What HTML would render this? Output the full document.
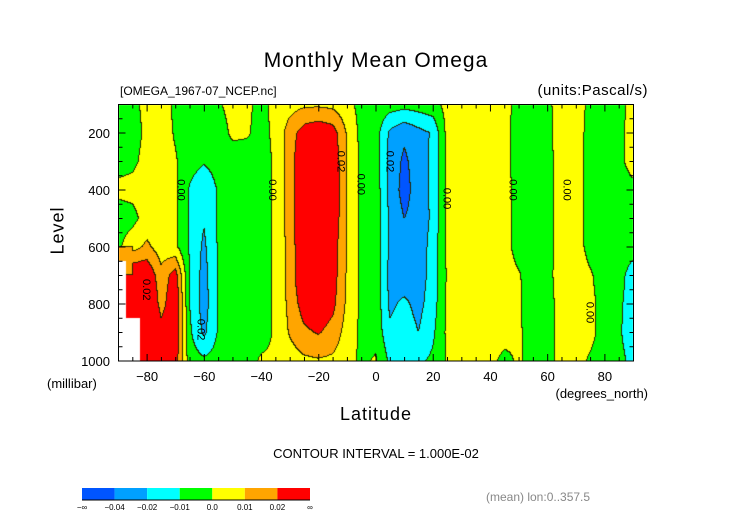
<!DOCTYPE html>
<html><head><meta charset="utf-8">
<style>
html,body{margin:0;padding:0;background:#fff;}
#wrap{position:relative;width:752px;height:532px;overflow:hidden;font-family:"Liberation Sans",sans-serif;color:#000;}
.t{position:absolute;white-space:nowrap;}
canvas{position:absolute;left:0;top:0;}
svg{position:absolute;left:0;top:0;}
</style></head>
<body>
<div id="wrap">
<canvas id="cv" width="752" height="532"></canvas>
<svg id="ov" width="752" height="532"></svg>
<div class="t" style="left:0;width:752px;text-align:center;top:49px;font-size:21px;letter-spacing:1px;font-weight:300;">Monthly Mean Omega</div>
<div class="t" style="left:120px;top:84px;font-size:12px;">[OMEGA_1967-07_NCEP.nc]</div>
<div class="t" style="right:104px;top:82px;font-size:15px;letter-spacing:0.5px;">(units:Pascal/s)</div>
<div class="t" style="left:34px;top:220px;font-size:18px;transform:rotate(-90deg);letter-spacing:1px;">Level</div>
<div class="t" style="left:47px;top:376px;font-size:13px;">(millibar)</div>
<div class="t" style="left:0;width:752px;text-align:center;top:404px;font-size:18px;letter-spacing:1px;">Latitude</div>
<div class="t" style="right:104px;top:386px;font-size:13px;">(degrees_north)</div>
<div class="t" style="left:0;width:752px;text-align:center;top:446px;font-size:13px;">CONTOUR INTERVAL = 1.000E-02</div>
<div class="t" style="left:486px;top:490px;font-size:12px;color:#888;">(mean) lon:0..357.5</div>
</div>
<script>
const lats=[-90,-85,-80,-75,-70,-65,-60,-55,-50,-45,-40,-35,-30,-25,-20,-15,-10,-5,0,5,10,15,20,25,30,35,40,45,50,55,60,65,70,75,80,85,90];
const levels=[100,200,300,400,500,600,700,800,900,1000];
const N=NaN;
const omega100=[-0.5,-0.3,0.3,0.5,-0.2,-0.5,-0.5,-0.1,0.3,0.2,-0.3,0.3,0.6,0.8,0.8,0.7,0.3,-0.3,-0.4,-0.5,-0.6,-0.5,-0.3,0.3,0.5,0.5,0.5,0.3,-0.3,-0.5,-0.2,0.4,0.4,-0.2,-0.4,-0.2,0.2];
const omega200=[-0.5,-0.4,0.2,0.5,-0.1,-0.5,-0.6,-0.5,0.2,0.1,-0.3,0.2,1.5,2.5,2.8,2.5,0.9,-0.3,-0.5,-2.2,-2.8,-2.3,-1.9,0.3,0.6,0.6,0.5,0.3,-0.4,-0.6,-0.3,0.5,0.4,-0.3,-0.5,-0.2,0.3];
const omega300=[-0.3,-0.2,0.3,0.5,0.1,-0.6,-0.9,-0.6,-0.5,-0.4,-0.3,0.1,1.5,3,3.2,2.8,1.0,-0.2,-0.5,-2.3,-3.2,-2.5,-1.8,0.2,0.5,0.5,0.5,0.3,-0.4,-0.6,-0.3,0.4,0.4,-0.3,-0.5,-0.2,0.3];
const omega400=[0.2,0.3,0.5,0.5,0.2,-1.1,-1.8,-0.9,-0.5,-0.4,-0.3,0.1,1.5,3,3.3,3,1.0,-0.2,-0.4,-2.3,-3.4,-2.5,-1.8,0.2,0.5,0.6,0.6,0.4,-0.4,-0.6,-0.3,0.4,0.4,-0.3,-0.5,-0.3,-0.2];
const omega500=[-0.4,-0.3,0.4,0.5,0.2,-1.1,-1.9,-0.9,-0.5,-0.4,-0.3,0.1,1.5,3,3.3,2.8,1.0,-0.2,-0.3,-2.2,-3.0,-2.6,-1.8,0.2,0.5,0.6,0.6,0.4,-0.4,-0.6,-0.3,0.4,0.4,-0.3,-0.5,-0.3,-0.3];
const omega600=[-0.2,0.6,1.2,0.5,0.2,-1.1,-2.2,-0.9,-0.5,-0.4,-0.3,0.1,1.4,3,3.2,2.6,0.9,-0.2,-0.3,-2.2,-2.8,-2.6,-1.6,0.2,0.5,0.6,0.6,0.4,-0.4,-0.6,-0.3,0.4,0.4,-0.3,-0.5,-0.4,-0.6];
const omega700=[N,3,3,1.3,2.5,-1.0,-2.4,-0.9,-0.5,-0.4,-0.3,0.1,1.4,3,3.2,2.5,0.9,-0.2,-0.3,-2.3,-2.6,-2.5,-1.6,0.1,0.5,0.6,0.6,0.4,0.1,-0.5,-0.2,0.3,0.5,0.1,-0.4,-0.6,-1.5];
const omega800=[N,5,4,1.5,3,-1.0,-2.5,-0.9,-0.5,-0.4,-0.3,0.1,1.3,2.5,2.8,2.3,0.8,-0.2,-0.3,-2.2,-1.8,-2.3,-1.5,0.2,0.5,0.5,0.5,0.3,0.1,-0.4,-0.2,0.2,0.4,0.2,-0.3,-0.8,-1.5];
const omega900=[N,N,6,2.5,3,-0.8,-2.2,-0.9,-0.5,-0.3,-0.3,0.1,1.1,1.8,2.1,1.6,0.6,-0.2,-0.3,-1.8,-1.5,-2.0,-1.2,0.2,0.4,0.4,0.4,0.3,0.1,-0.3,-0.2,0.2,0.3,0.2,-0.3,-0.9,-1.4];
const omega1000=[N,N,5,2,2.5,-0.5,-0.8,-0.6,-0.4,-0.3,0.1,0.1,0.5,0.8,0.9,0.8,0.4,-0.2,0.1,-1.2,-1.0,-1.2,-0.8,0.1,0.3,0.3,0.2,-0.2,0.1,-0.3,-0.2,0.2,0.3,-0.1,-0.3,-0.8,-1.2];
const grid=[omega100,omega200,omega300,omega400,omega500,omega600,omega700,omega800,omega900,omega1000];
const thresholds=[-3,-2,-1,0,1,2];
const colors=["#0055ff","#00a0ff","#00ffff","#00ff00","#ffff00","#ffa500","#ff0000"];
const cbLabels=["−∞","−0.04","−0.02","−0.01","0.0","0.01","0.02","∞"];
const xTicks=[-80,-60,-40,-20,0,20,40,60,80];
const yTicks=[200,400,600,800,1000];

const X0=118.5,X1=633.5,Y0=104.5,Y1=361;
const xs=lat=>X0+(lat+90)/180*(X1-X0);
const ys=p=>Y0+(p-100)/900*(Y1-Y0);
const hex=h=>[parseInt(h.slice(1,3),16),parseInt(h.slice(3,5),16),parseInt(h.slice(5,7),16)];
const rgb=colors.map(hex);
function cls(v){if(isNaN(v))return -1;let k=0;while(k<thresholds.length&&v>=thresholds[k])k++;return k;}
function sample(lat,p){
  let fi=(lat-lats[0])/(lats[1]-lats[0]);let fj=(p-levels[0])/(levels[1]-levels[0]);
  fi=Math.max(0,Math.min(lats.length-1.0001,fi));fj=Math.max(0,Math.min(levels.length-1.0001,fj));
  const i=Math.floor(fi),j=Math.floor(fj),a=fi-i,b=fj-j;
  const v00=grid[j][i],v10=grid[j][i+1],v01=grid[j+1][i],v11=grid[j+1][i+1];
  if([v00,v10,v01,v11].some(isNaN)){const ni=a<0.5?i:i+1,nj=b<0.5?j:j+1;const nv=grid[nj][ni];
    if(isNaN(nv))return NaN;
    const c=[v00,v10,v01,v11].filter(v=>!isNaN(v));return c.reduce((s,v)=>s+v,0)/c.length;}
  return v00*(1-a)*(1-b)+v10*a*(1-b)+v01*(1-a)*b+v11*a*b;
}
const cv=document.getElementById('cv');const ctx=cv.getContext('2d');
const x0=Math.ceil(X0),x1=Math.floor(X1),y0=Math.ceil(Y0),y1=Math.floor(Y1);
const W=x1-x0,H=y1-y0;const img=ctx.createImageData(W,H);const C=[];
for(let y=0;y<H;y++){C.push([]);for(let x=0;x<W;x++){
  const lat=-90+(x0+x+0.5-X0)/(X1-X0)*180;const p=100+(y0+y+0.5-Y0)/(Y1-Y0)*900;
  const k=cls(sample(lat,p));C[y].push(k);const o=(y*W+x)*4;
  const c=k<0?[255,255,255]:rgb[k];img.data[o]=c[0];img.data[o+1]=c[1];img.data[o+2]=c[2];img.data[o+3]=255;}}
for(let y=0;y<H;y++)for(let x=0;x<W;x++){const k=C[y][x];if(k<0)continue;
  if((x+1<W&&C[y][x+1]>=0&&C[y][x+1]!==k)||(y+1<H&&C[y+1][x]>=0&&C[y+1][x]!==k)){const o=(y*W+x)*4;
    img.data[o]=40;img.data[o+1]=40;img.data[o+2]=0;}}
ctx.putImageData(img,x0,y0);

const svg=document.getElementById('ov');const NS="http://www.w3.org/2000/svg";
function mk(tag,attrs,parent){const e=document.createElementNS(NS,tag);for(const k in attrs)e.setAttribute(k,attrs[k]);(parent||svg).appendChild(e);return e;}
const frame=mk('rect',{x:X0,y:Y0,width:X1-X0,height:Y1-Y0,fill:'none',stroke:'#000','stroke-width':1});


for(let lat=-90;lat<=90;lat+=5){const x=xs(lat);const L=(lat%20===0)?7:4;
  const t1=mk('line',{x1:x,x2:x,y1:Y1,y2:Y1-L,stroke:'#000'});
  
  
  const t2=mk('line',{x1:x,x2:x,y1:Y0,y2:Y0+L,stroke:'#000'});
  
  }
for(let p=100;p<=1000;p+=50){const y=ys(p);const L=(p%200===0)?7:4;
  const t1=mk('line',{x1:X0,x2:X0+L,y1:y,y2:y,stroke:'#000'});
  
  
  const t2=mk('line',{x1:X1,x2:X1-L,y1:y,y2:y,stroke:'#000'});
  
  }
xTicks.forEach(v=>{const t=mk('text',{x:xs(v),y:381,'text-anchor':'middle','font-size':13,'font-family':'Liberation Sans, sans-serif'});t.textContent=(v<0?'−':'')+Math.abs(v);
  
  });
yTicks.forEach(v=>{const t=mk('text',{x:110,y:ys(v)+5,'text-anchor':'end','font-size':13,'font-family':'Liberation Sans, sans-serif'});t.textContent=v;
  
  });
const clabels=[[-68,400,'0.00'],[-36,400,'0.00'],[-5,380,'0.00'],[-12,300,'0.02'],[25,430,'0.00'],[48,400,'0.00'],[67,400,'0.00'],[75,830,'0.00'],[5,300,'0.02'],[-61,890,'0.02'],[-80,750,'0.02']];
clabels.forEach(c=>{const x=xs(c[0]),y=ys(c[1]);const t=mk('text',{x:x,y:y,'text-anchor':'middle','font-size':11,'font-family':'Liberation Sans, sans-serif',transform:`rotate(90 ${x} ${y})`,dy:4});t.textContent=c[2];
  
  });
const cbX=82,cbW=228,cbY=488,cbH=12,seg=cbW/colors.length;
colors.forEach((c,i)=>{const r=mk('rect',{x:cbX+i*seg,y:cbY,width:seg,height:cbH,fill:c});
  
  });
const cbf=mk('line',{x1:cbX,x2:cbX+cbW,y1:cbY+cbH,y2:cbY+cbH,stroke:'#000'});


cbLabels.forEach((s,i)=>{const t=mk('text',{x:cbX+i*seg,y:510,'text-anchor':'middle','font-size':8,'font-family':'Liberation Sans, sans-serif'});t.textContent=s;
  
  });
</script>
</body></html>
